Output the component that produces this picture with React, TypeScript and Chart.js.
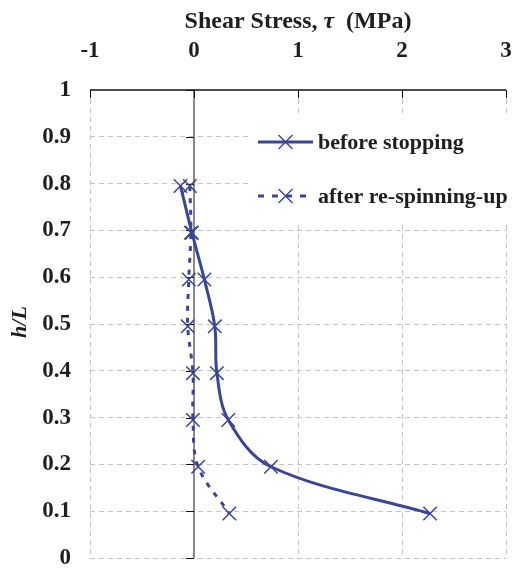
import React, { useEffect, useRef } from 'react';
import { Chart, registerables } from 'chart.js';

Chart.register(...registerables);

// ---- data ----
const hOverL = [0.795, 0.695, 0.595, 0.495, 0.395, 0.295, 0.195, 0.095];
const beforeStopping = [-0.13, -0.02, 0.1, 0.2, 0.22, 0.33, 0.74, 2.27];
const afterRespinning = [-0.04, -0.03, -0.05, -0.06, -0.01, -0.01, 0.04, 0.34];
const seriesNames = ['before stopping', 'after re-spinning-up'];
const xTickValues = [-1, 0, 1, 2, 3];
const yTickValues = [0, 0.1, 0.2, 0.3, 0.4, 0.5, 0.6, 0.7, 0.8, 0.9, 1];
const xTitleParts = ['Shear Stress, ', '\u03C4', '  (MPa)'];
const yTitle = 'h/L';

const BLUE = '#3a4597';
const SERIF = '"Liberation Serif", "Times New Roman", serif';
const TEXT = '#1e1e1e';

const decorPlugin = {
  id: 'decor',
  beforeDatasetsDraw(chart: any) {
    const { ctx, scales } = chart;
    const x = scales.x;
    const y = scales.y;
    const x0 = x.getPixelForValue(0);
    ctx.save();
    // gray axis line at x = 0
    ctx.strokeStyle = '#8a8a8a';
    ctx.lineWidth = 2;
    ctx.beginPath();
    ctx.moveTo(x0, y.top);
    ctx.lineTo(x0, y.bottom);
    ctx.stroke();
    // y ticks to the left of the axis
    ctx.strokeStyle = '#111';
    ctx.lineWidth = 1;
    yTickValues.forEach((v) => {
      const py = Math.round(y.getPixelForValue(v)) + 0.5;
      ctx.beginPath();
      ctx.moveTo(x0 - 8, py);
      ctx.lineTo(x0, py);
      ctx.stroke();
    });
    ctx.restore();
  },
  afterDatasetsDraw(chart: any) {
    const { ctx, scales } = chart;
    const x = scales.x;
    const y = scales.y;
    ctx.save();
    // legend box (white background)
    ctx.fillStyle = '#ffffff';
    ctx.fillRect(248, 113, 261, 110);
    const rows = [
      { name: seriesNames[0], dash: [] as number[], yy: 142 },
      { name: seriesNames[1], dash: [6, 8], yy: 196 },
    ];
    rows.forEach((r) => {
      ctx.strokeStyle = BLUE;
      ctx.lineWidth = 2.8;
      ctx.setLineDash(r.dash);
      ctx.beginPath();
      ctx.moveTo(258, r.yy);
      ctx.lineTo(313, r.yy);
      ctx.stroke();
      ctx.setLineDash([]);
      ctx.lineWidth = 1.4;
      const c = 285.5;
      const d = 7;
      ctx.beginPath();
      ctx.moveTo(c - d, r.yy - d);
      ctx.lineTo(c + d, r.yy + d);
      ctx.moveTo(c - d, r.yy + d);
      ctx.lineTo(c + d, r.yy - d);
      ctx.stroke();
      ctx.fillStyle = TEXT;
      ctx.font = `bold 22px ${SERIF}`;
      ctx.textBaseline = 'middle';
      ctx.textAlign = 'left';
      ctx.fillText(r.name, 318, r.yy + 1);
    });
    // top axis line + ticks
    ctx.strokeStyle = '#111';
    ctx.lineWidth = 1.5;
    ctx.beginPath();
    ctx.moveTo(x.left, y.top);
    ctx.lineTo(x.right, y.top);
    ctx.stroke();
    ctx.lineWidth = 1;
    xTickValues.forEach((v) => {
      const px = Math.round(x.getPixelForValue(v)) + 0.5;
      ctx.beginPath();
      ctx.moveTo(px, y.top);
      ctx.lineTo(px, y.top + 8);
      ctx.stroke();
    });
    ctx.restore();
  },
  afterDraw(chart: any) {
    const { ctx, scales } = chart;
    const x = scales.x;
    ctx.save();
    ctx.fillStyle = TEXT;
    ctx.textBaseline = 'alphabetic';
    // x title
    const fonts = [`bold 24px ${SERIF}`, `italic bold 24px ${SERIF}`, `bold 24px ${SERIF}`];
    let total = 0;
    const widths = xTitleParts.map((t, i) => {
      ctx.font = fonts[i];
      const w = ctx.measureText(t).width;
      total += w;
      return w;
    });
    let cx = (x.left + x.right) / 2 - total / 2;
    xTitleParts.forEach((t, i) => {
      ctx.font = fonts[i];
      ctx.textAlign = 'left';
      ctx.fillText(t, cx, 28);
      cx += widths[i];
    });
    // y title
    ctx.translate(26, 322);
    ctx.rotate(-Math.PI / 2);
    ctx.font = `italic bold 22px ${SERIF}`;
    ctx.textAlign = 'center';
    ctx.fillText(yTitle, 0, 0);
    ctx.restore();
  },
};

export default function App() {
  const ref = useRef<HTMLCanvasElement | null>(null);
  useEffect(() => {
    document.body.style.margin = '0';
    const canvas = ref.current;
    if (!canvas) return;
    const chart = new Chart(canvas, {
      type: 'line',
      data: {
        datasets: [
          {
            label: seriesNames[0],
            data: hOverL.map((h, i) => ({ x: beforeStopping[i], y: h })),
            borderColor: BLUE,
            backgroundColor: BLUE,
            borderWidth: 3,
            tension: 0.35,
            pointStyle: 'crossRot',
            pointRadius: 9.5,
            pointBorderWidth: 1.5,
            pointBorderColor: BLUE,
            fill: false,
          },
          {
            label: seriesNames[1],
            data: hOverL.map((h, i) => ({ x: afterRespinning[i], y: h })),
            borderColor: BLUE,
            backgroundColor: BLUE,
            borderWidth: 3,
            borderDash: [5, 7],
            tension: 0.35,
            pointStyle: 'crossRot',
            pointRadius: 9.5,
            pointBorderWidth: 1.5,
            pointBorderColor: BLUE,
            fill: false,
          },
        ],
      },
      options: {
        animation: false,
        responsive: false,
        maintainAspectRatio: false,
        layout: { padding: { top: 0, left: 0, right: 5, bottom: 13 } },
        plugins: {
          legend: { display: false },
          tooltip: { enabled: false },
        },
        scales: {
          x: {
            type: 'linear',
            position: 'top',
            min: -1,
            max: 3,
            afterFit: (s: any) => {
              s.height = 90;
              s.paddingLeft = 0;
              s.paddingRight = 0;
            },
            afterBuildTicks: (s: any) => {
              s.ticks = xTickValues.map((v) => ({ value: v }));
            },
            ticks: {
              padding: 25,
              color: TEXT,
              font: { family: SERIF, size: 23, weight: 'bold' },
              callback: (v: any) => String(v),
            },
            grid: {
              color: '#c4c4c4',
              lineWidth: 1,
              drawTicks: false,
            },
            border: { display: false, dash: [5, 4] },
          },
          y: {
            type: 'linear',
            min: 0,
            max: 1,
            afterFit: (s: any) => {
              s.width = 90;
              s.paddingTop = 0;
              s.paddingBottom = 0;
            },
            afterBuildTicks: (s: any) => {
              s.ticks = yTickValues.map((v) => ({ value: v }));
            },
            ticks: {
              padding: 19,
              color: TEXT,
              font: { family: SERIF, size: 23, weight: 'bold' },
              callback: (v: any) => String(Math.round(Number(v) * 10) / 10),
            },
            grid: {
              color: (c: any) => (c.tick && c.tick.value === 1 ? 'rgba(0,0,0,0)' : '#c4c4c4'),
              lineWidth: 1,
              drawTicks: false,
            },
            border: { display: false, dash: [5, 4] },
          },
        },
      },
      plugins: [decorPlugin],
    } as any);
    return () => chart.destroy();
  }, []);
  return (
    <div style={{ width: 517, height: 571 }}>
      <canvas ref={ref} width={517} height={571} style={{ display: 'block' }} />
    </div>
  );
}
